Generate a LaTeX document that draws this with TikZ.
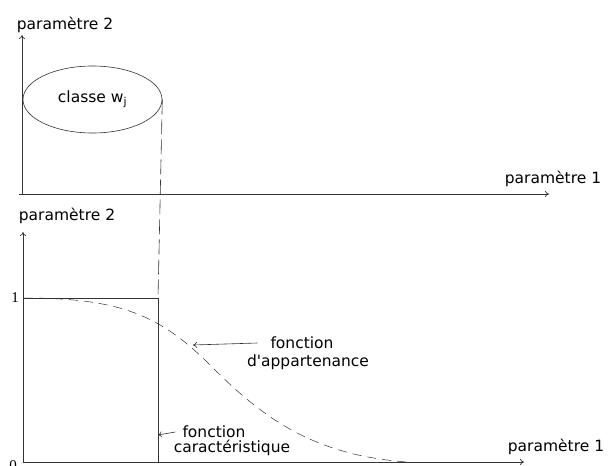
\documentclass[tikz,border=0pt]{standalone}
\usepackage{fontspec}
\setmainfont{DejaVu Sans}
\newfontfamily\digitfont{Liberation Serif}
\usetikzlibrary{arrows.meta, positioning, shapes.geometric}

\begin{document}
\begin{tikzpicture}[
  x=1pt, y=-1pt,
  lbl/.style={font=\fontsize{15.5}{19}\selectfont, inner sep=0pt, align=center},
  num/.style={font=\digitfont\fontsize{15}{15}\selectfont, inner sep=0pt},
  axis/.style={-{To[length=4pt,width=6pt]}, line width=0.7pt, black!80},
  arrow/.style={-{To[length=4pt,width=6pt]}, line width=0.6pt, black!80},
  classbox/.style={draw, ellipse, line width=0.6pt, black!80, text=black, font=\fontsize{15.5}{19}\selectfont, minimum width=139pt, minimum height=67pt, inner sep=0pt},
  dashline/.style={line width=0.6pt, black!80, dash pattern=on 15pt off 5pt},
  dashcurve/.style={line width=0.5pt, black!80, dash pattern=on 9pt off 6pt}
]
\useasboundingbox (0,0) rectangle (609,465);

% upper plane
\coordinate (o1) at (22,194);
\coordinate (y1) at (22,35);
\coordinate (x1) at (549,194);
\draw[axis] (o1) -- (y1);
\draw[axis] (19,194) -- (x1);
\node[lbl] (p2top) at (65,25) {paramètre 2};
\node[lbl] (p1top) at (553,179) {paramètre 1};
\node[classbox] (classe) at (92.5,99.5) {classe w\textsubscript{j}};

% lower plane
\coordinate (o2) at (23,462);
\coordinate (y2) at (23,232);
\coordinate (x2) at (524,462);
\draw[axis] (o2) -- (y2);
\draw[axis] (o2) -- (x2);
\node[lbl] (p2bot) at (67,216) {paramètre 2};
\node[lbl] (p1bot) at (556,447) {paramètre 1};
\node[num] (one) at (15,298) {1};
\node[num] (zero) at (13,466) {0};

% characteristic function
\coordinate (corner) at (158,298);
\draw[line width=0.7pt, black!80] (one.east -| o2) -- (corner) -- (corner |- o2);
\draw[dashline] (classe.east) -- (corner);

% membership function
\draw[dashcurve] (24,298) .. controls (120,298) and (160,315) .. (210,365)
  .. controls (260,415) and (310,455) .. (407,462);

\node[lbl] (fapp) at (302,343) {fonction};
\node[lbl] (fapp2) at (308,362) {d\textquotesingle appartenance};
\coordinate (apppt) at (193,345);
\draw[arrow] ([xshift=-13pt]fapp.west) -- (apppt);

\node[lbl] (fcar) at (214,432) {fonction};
\node[lbl] (fcar2) at (232,448) {caractéristique};
\coordinate (carpt) at (158,435);
\draw[arrow] ([xshift=-7pt]fcar.west) -- (carpt);
\end{tikzpicture}
\end{document}
